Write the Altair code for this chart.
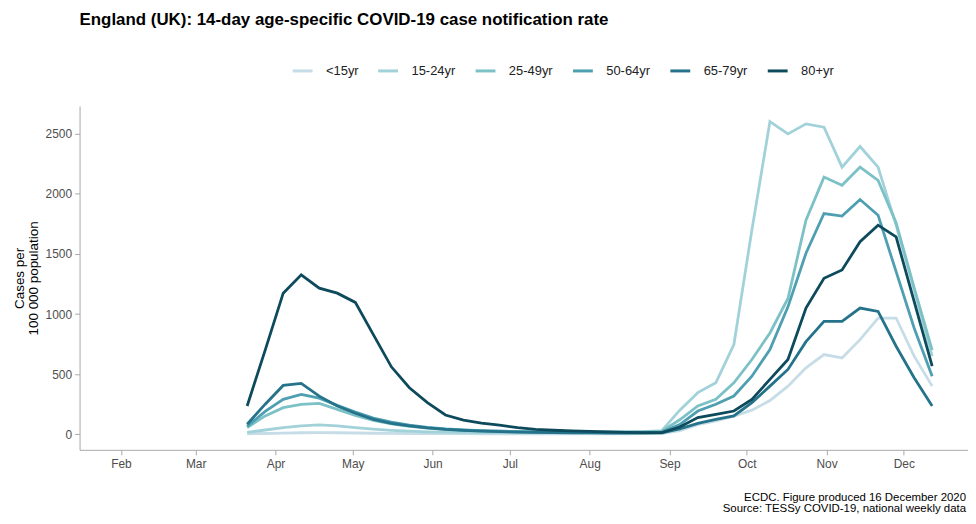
import altair as alt
import pandas as pd

# weekly reporting dates (14-day notification rate)
weeks = pd.date_range("2020-03-21", periods=39, freq="7D").strftime("%Y-%m-%d").tolist()

groups = ["<15yr", "15-24yr", "25-49yr", "50-64yr", "65-79yr", "80+yr"]
colors = ["#c6dce6", "#a2d2d9", "#7cc1c6", "#4d9fb1", "#25738b", "#0d4a5c"]

rate_u15 = [3, 6, 9, 12, 13, 12, 10, 8, 7, 6, 5, 4, 4, 3, 3, 3, 3, 3, 3, 3, 3, 3, 4, 6,
            30, 80, 110, 150, 200, 280, 400, 553, 663, 635, 787, 967, 967, 650, 400]
rate_15_24 = [15, 35, 55, 70, 78, 70, 55, 42, 32, 25, 20, 17, 15, 14, 14, 14, 15, 16, 17, 18,
              19, 20, 22, 30, 200, 346, 428, 746, 1700, 2602, 2500, 2583, 2555, 2223, 2395,
              2223, 1740, 1202, 650]
rate_25_49 = [55, 152, 221, 249, 257, 207, 157, 115, 85, 65, 50, 40, 33, 28, 25, 23, 21, 20,
              20, 20, 20, 20, 22, 25, 120, 235, 290, 428, 622, 843, 1130, 1782, 2140, 2072,
              2224, 2113, 1760, 1220, 700]
rate_50_64 = [65, 190, 290, 331, 300, 240, 185, 135, 100, 75, 57, 44, 35, 29, 25, 21, 18, 16,
              15, 14, 14, 14, 15, 18, 80, 193, 249, 318, 483, 704, 1060, 1506, 1837, 1815,
              1953, 1823, 1353, 884, 483]
rate_65_79 = [83, 250, 406, 423, 317, 235, 174, 124, 91, 69, 52, 40, 32, 26, 22, 18, 15, 13,
              12, 11, 10, 10, 10, 12, 45, 90, 124, 152, 263, 400, 539, 770, 939, 939, 1050,
              1022, 732, 470, 235]
rate_80p = [235, 700, 1174, 1326, 1216, 1174, 1097, 829, 561, 387, 263, 160, 118, 92, 75, 55,
            40, 33, 28, 24, 20, 16, 14, 14, 60, 138, 166, 193, 290, 456, 622, 1050, 1298, 1367,
            1602, 1740, 1643, 1105, 566]

series = [rate_u15, rate_15_24, rate_25_49, rate_50_64, rate_65_79, rate_80p]

title_text = "England (UK): 14-day age-specific COVID-19 case notification rate"
caption_1 = "ECDC. Figure produced 16 December 2020"
caption_2 = "Source: TESSy COVID-19, national weekly data"
y_ticks = [0, 500, 1000, 1500, 2000, 2500]

rows = []
for gi, (g, vals) in enumerate(zip(groups, series)):
    for d, v in zip(weeks, vals):
        rows.append({"week": d, "group": g, "rate": v, "gi": gi})
df = pd.DataFrame(rows)

FONT = "Liberation Sans"
AXIS_GREY = "#a8a8a8"

x_ticks = [alt.DateTime(year=2020, month=m, date=1, utc=True) for m in range(2, 13)]

lines = alt.Chart(df).mark_line(strokeWidth=2.8).encode(
    x=alt.X(
        "week:T",
        scale=alt.Scale(
            type="utc",
            domain=[
                alt.DateTime(year=2020, month=1, date=15, hours=22, utc=True),
                alt.DateTime(year=2020, month=12, date=25, hours=22, utc=True),
            ],
            nice=False,
        ),
        axis=alt.Axis(values=x_ticks, format="%b", title=None, grid=False,
                      domainColor=AXIS_GREY, tickColor=AXIS_GREY, tickSize=5,
                      labelColor="#4d4d4d", labelFontSize=12, labelFont=FONT,
                      labelPadding=4),
    ),
    y=alt.Y(
        "rate:Q",
        scale=alt.Scale(domain=[-130, 2732], nice=False, zero=False),
        axis=alt.Axis(values=y_ticks, format="d",
                      title=["Cases per", "100 000 population"],
                      grid=False, domainColor=AXIS_GREY, tickColor=AXIS_GREY,
                      tickSize=5, labelColor="#4d4d4d", labelFontSize=12,
                      labelFont=FONT, labelPadding=3, titleFont=FONT,
                      titleFontSize=13.5, titleFontWeight="normal",
                      titleColor="#000000", titlePadding=5, titleLineHeight=14),
    ),
    color=alt.Color(
        "group:N",
        scale=alt.Scale(domain=groups, range=colors),
        legend=alt.Legend(orient="none", legendX=213, legendY=-47,
                          direction="horizontal", title=None,
                          symbolType="stroke", symbolSize=400,
                          symbolStrokeWidth=3, labelFontSize=13,
                          labelFont=FONT, labelColor="#222222", labelOffset=12,
                          columnPadding=13),
    ),
    order=alt.Order("gi:Q"),
)

title_mark = alt.Chart(pd.DataFrame({"t": [title_text]})).mark_text(
    align="left", baseline="alphabetic", font=FONT, fontSize=17,
    fontWeight="bold", color="#000000",
).encode(text="t:N", x=alt.value(0), y=alt.value(-81))

cap1 = alt.Chart(pd.DataFrame({"t": [caption_1]})).mark_text(
    align="right", baseline="alphabetic", font=FONT, fontSize=11.5, color="#000000",
).encode(text="t:N", x=alt.value(892), y=alt.value(397))

cap2 = alt.Chart(pd.DataFrame({"t": [caption_2]})).mark_text(
    align="right", baseline="alphabetic", font=FONT, fontSize=11.5, color="#000000",
).encode(text="t:N", x=alt.value(892), y=alt.value(409))

chart = alt.layer(lines, title_mark, cap1, cap2).properties(
    width=894,
    height=346,
    autosize=alt.AutoSizeParams(type="none"),
    padding={"left": 72, "top": 97, "right": 0, "bottom": 65},
    background="#ffffff",
).configure_view(stroke=None)

chart.save("out.html", embed_options={"renderer": "svg", "actions": False})
